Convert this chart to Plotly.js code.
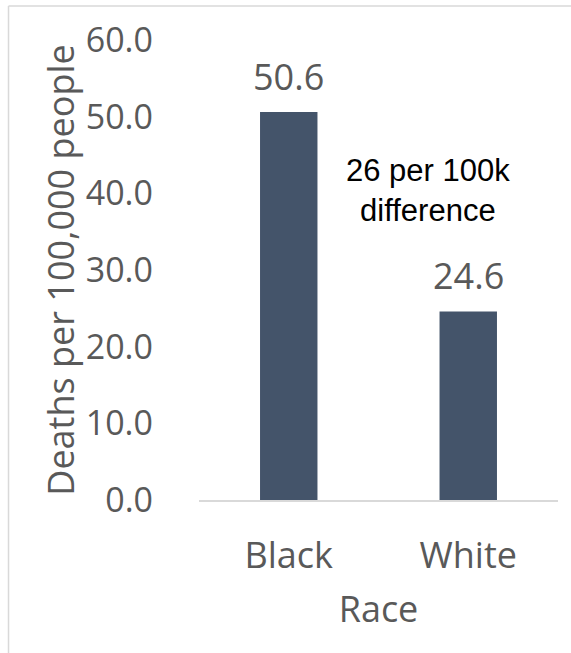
<!DOCTYPE html>
<html>
<head>
<meta charset="utf-8">
<script src="https://cdn.plot.ly/plotly-3.0.1.min.js"></script>
<style>
  html, body { margin: 0; padding: 0; background: #ffffff; }
  #chart { width: 571px; height: 653px; }
</style>
</head>
<body>
<div id="chart"></div>
<script>
// ---- data ----
const categories = ["Black", "White"];
const deathRates = [50.6, 24.6];
const yTickValues = [0, 10, 20, 30, 40, 50, 60];
const xAxisTitle = "Race";
const yAxisTitle = "Deaths per 100,000 people";
const noteSuffix = " per 100k<br>difference";

const gray = "#595959";
const barColor = "#44546A";
const lineGray = "#D9D9D9";
const mainFont = "Open Sans, Noto Sans, sans-serif";

const diff = Math.round(deathRates[0] - deathRates[1]);

const trace = {
  type: "bar",
  x: categories,
  y: deathRates,
  marker: { color: barColor, line: { width: 0 } },
  hoverinfo: "skip"
};

const valueLabels = categories.map((c, i) => ({
  x: c, y: deathRates[i], xref: "x", yref: "y",
  text: deathRates[i].toFixed(1),
  showarrow: false, yanchor: "bottom", yshift: 9,
  font: { family: mainFont, size: 36, color: gray }
}));

const layout = {
  width: 571, height: 653,
  margin: { l: 199, r: 13, t: 40, b: 153 },
  paper_bgcolor: "#ffffff", plot_bgcolor: "#ffffff",
  showlegend: false,
  bargap: 0.68,
  font: { family: mainFont, color: gray },
  xaxis: {
    type: "category",
    showline: true, linecolor: lineGray, linewidth: 1.5,
    showgrid: false, zeroline: false, ticks: "",
    tickfont: { family: mainFont, size: 36, color: gray },
    ticklabelstandoff: 23,
    title: { text: xAxisTitle, font: { family: mainFont, size: 36, color: gray }, standoff: 19 },
    automargin: false
  },
  yaxis: {
    range: [0, 60],
    tickvals: yTickValues,
    tickformat: ".1f",
    showline: false, showgrid: false, zeroline: false, ticks: "",
    tickfont: { family: mainFont, size: 34, color: gray },
    ticklabelstandoff: 45,
    title: { text: yAxisTitle, font: { family: mainFont, size: 36, color: gray }, standoff: 0 },
    automargin: false
  },
  annotations: valueLabels.concat([{
    xref: "paper", yref: "paper", x: 0.6365, y: 0.672,
    xanchor: "center", yanchor: "middle",
    text: diff + noteSuffix,
    showarrow: false, align: "center",
    font: { family: "Liberation Sans, Arial, sans-serif", size: 31, color: "#000000" }
  }]),
  shapes: [
    { type: "line", xref: "paper", yref: "paper", x0: -0.5306, x1: -0.5306, y0: 1.0739, y1: -0.34,
      line: { color: lineGray, width: 1.5 } },
    { type: "line", xref: "paper", yref: "paper", x0: -0.5306, x1: 1.05, y0: 1.0739, y1: 1.0739,
      line: { color: lineGray, width: 1.5 } }
  ]
};

Plotly.newPlot("chart", [trace], layout, { displayModeBar: false, staticPlot: true });
</script>
</body>
</html>
